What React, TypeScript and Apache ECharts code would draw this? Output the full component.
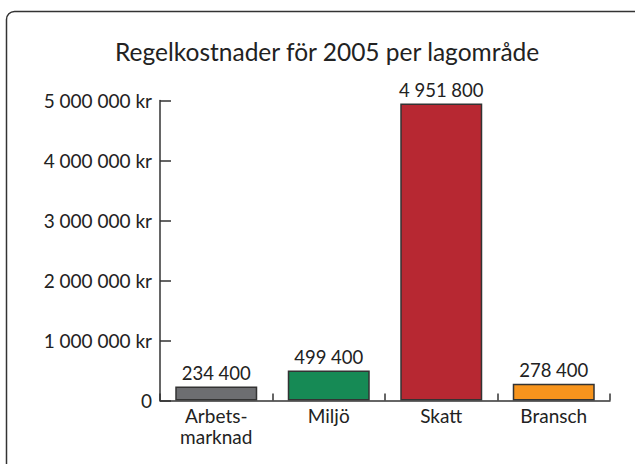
import React, { useEffect, useRef } from "react";
import * as echarts from "echarts";

const categories = ["Arbets-\nmarknad", "Miljö", "Skatt", "Bransch"];
const values = [234400, 499400, 4951800, 278400];
const colors = ["#6d6e71", "#168a55", "#b72832", "#f7941d"];
const yTicks = [0, 1000000, 2000000, 3000000, 4000000, 5000000];

const FONT = "Lato, 'Open Sans', sans-serif";

function fmt(v: number): string {
  return String(Math.round(v)).replace(/\B(?=(\d{3})+(?!\d))/g, " ");
}

export default function App() {
  const ref = useRef<HTMLDivElement>(null);
  useEffect(() => {
    if (!ref.current) return;
    const chart = echarts.init(ref.current, null, { renderer: "svg" });
    chart.setOption({
      animation: false,
      backgroundColor: "#ffffff",
      title: {
        text: "Regelkostnader för 2005 per lagområde",
        left: 110,
        top: 34,
        textStyle: { fontFamily: FONT, fontSize: 24.5, fontWeight: "normal", color: "#222" },
      },
      graphic: [
        {
          type: "rect",
          shape: { x: 6.5, y: 11.5, width: 700, height: 520, r: 8 },
          style: { fill: "none", stroke: "#333", lineWidth: 1.5 },
          silent: true,
          z: -1,
        },
      ],
      grid: { left: 160, right: 25, top: 100.5, height: 300, containLabel: false },
      xAxis: {
        type: "category",
        data: categories,
        axisLine: { show: true, lineStyle: { color: "#333", width: 1.5 } },
        axisTick: { show: true, inside: true, length: 7, alignWithLabel: false, lineStyle: { color: "#333", width: 1.5 } },
        axisLabel: {
          fontFamily: FONT,
          fontSize: 19,
          color: "#222",
          margin: 4,
          lineHeight: 21,
          interval: 0,
        },
      },
      yAxis: {
        type: "value",
        min: 0,
        max: 5000000,
        interval: 1000000,
        splitLine: { show: false },
        axisLine: { show: true, lineStyle: { color: "#333", width: 1.5 } },
        axisTick: { show: true, inside: true, length: 11, lineStyle: { color: "#333", width: 1.5 } },
        axisLabel: {
          fontFamily: FONT,
          fontSize: 19,
          color: "#222",
          margin: 8,
          padding: [6, 0, 0, 0],
          customValues: yTicks,
          formatter: (v: number) => (v === 0 ? "0" : fmt(v) + " kr"),
        },
      },
      series: [
        {
          type: "bar",
          barWidth: 82,
          data: values.map((v, i) => ({
            value: v,
            itemStyle: { color: colors[i], borderColor: "#333", borderWidth: 1.5 },
          })),
          label: {
            show: true,
            position: "top",
            distance: 4,
            fontFamily: FONT,
            fontSize: 18.5,
            color: "#222",
            formatter: (p: any) => fmt(p.value),
          },
        },
      ],
    });
    return () => chart.dispose();
  }, []);
  return (
    <div
      ref={ref}
      style={{ position: "fixed", left: 0, top: 0, width: 635, height: 464 }}
    />
  );
}
